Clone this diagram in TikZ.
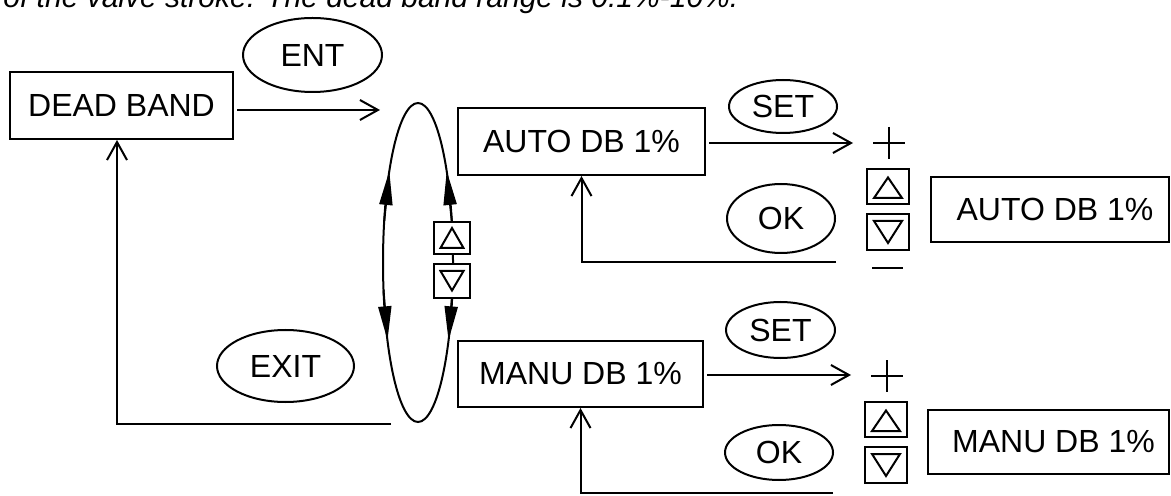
\documentclass[tikz,border=0pt]{standalone}
\usepackage{fontspec}
\setmainfont{Liberation Sans}
\usetikzlibrary{arrows.meta,shapes.geometric}
\begin{document}
\begin{tikzpicture}[x=0.5pt,y=-0.5pt,
  every node/.style={font=\fontsize{16}{19}\selectfont},
  box/.style={draw, line width=1pt, inner sep=0pt, rectangle},
  key/.style={draw, ellipse, line width=1pt, inner sep=0pt},
  btn/.style={draw, line width=1pt, inner sep=0pt, rectangle, fill=white},
  conn/.style={line width=1pt, -{Straight Barb[length=9pt,width=10pt,line width=1pt]}},
  plain/.style={line width=1pt},
  tri/.style={line width=1pt, line join=miter},
  loopar/.style={line width=1pt, -{Triangle[length=17pt,width=6.5pt]}},
]
\useasboundingbox (0,0) rectangle (1171,496);
\clip (0,0) rectangle (1171,496);

% top text line (cut by the picture edge, as in the reference)
\node[anchor=base west, inner sep=0pt, font=\itshape\fontsize{15}{18}\selectfont] (note) at (3,8)
  {of the valve stroke. The dead band range is 0.1\%-10\%.};

% boxes
\node[box, minimum width=111.5pt, minimum height=33.5pt] (dead) at (121.5,105.5) {DEAD BAND};
\node[box, minimum width=123.5pt, minimum height=33.5pt] (auto) at (581.5,141.5) {AUTO DB 1\%};
\node[box, minimum width=122.5pt, minimum height=33pt] (manu) at (580.5,374) {MANU DB 1\%};
\node[box, minimum width=119pt, minimum height=32.5pt] (autor) at (1050,209.5) {\hspace*{5pt}AUTO DB 1\%};
\node[box, minimum width=120.5pt, minimum height=32pt] (manur) at (1048.5,442) {\hspace*{5pt}MANU DB 1\%};

% key ellipses
\node[key, minimum width=69.5pt, minimum height=37pt] (ent) at (312.5,55) {ENT};
\node[key, minimum width=54pt, minimum height=26.5pt] (set1) at (783,106.5) {SET};
\node[key, minimum width=54pt, minimum height=34.5pt] (ok1) at (781,218.5) {OK};
\node[key, minimum width=54.5pt, minimum height=28pt] (set2) at (780.5,330) {SET};
\node[key, minimum width=54pt, minimum height=27.5pt] (ok2) at (779,452.5) {OK};
\node[key, minimum width=68.5pt, minimum height=36pt] (exit) at (285.5,366) {EXIT};

% selection loop
\node[draw, ellipse, line width=1pt, inner sep=0pt, minimum width=35pt, minimum height=159.5pt] (loop) at (418,262.5) {};
\draw[loopar] ([shift={(-33.8,-41.3)}]loop.center) -- ([shift={(-28.7,-91.5)}]loop.center);
\draw[loopar] ([shift={(33.8,-41.3)}]loop.center) -- ([shift={(28.7,-91.5)}]loop.center);
\draw[loopar] ([shift={(-34.5,27.7)}]loop.center) -- ([shift={(-30.5,77.8)}]loop.center);
\draw[loopar] ([shift={(34.5,27.7)}]loop.center) -- ([shift={(30.5,77.8)}]loop.center);

% buttons on the loop
\node[btn, minimum width=18pt, minimum height=16pt] (lup) at (452,238) {};
\node[btn, minimum width=18pt, minimum height=17pt] (ldn) at (452,281) {};
\draw[tri] ([shift={(-11.5,10)}]lup.center) -- ([shift={(11.5,10)}]lup.center) -- ([shift={(0,-10)}]lup.center) -- cycle;
\draw[tri] ([shift={(-11.5,-10)}]ldn.center) -- ([shift={(11.5,-10)}]ldn.center) -- ([shift={(0,9.5)}]ldn.center) -- cycle;

% upper right buttons
\node[btn, minimum width=21pt, minimum height=17.5pt] (aup) at (888,186.5) {};
\node[btn, minimum width=21pt, minimum height=18pt] (adn) at (888,232) {};
\draw[tri] ([shift={(-14,11.5)}]aup.center) -- ([shift={(14,11.5)}]aup.center) -- ([shift={(0,-9)}]aup.center) -- cycle;
\draw[tri] ([shift={(-14,-11)}]adn.center) -- ([shift={(14,-11)}]adn.center) -- ([shift={(0,11)}]adn.center) -- cycle;

% lower right buttons
\node[btn, minimum width=21pt, minimum height=17.5pt] (mup) at (886,419.5) {};
\node[btn, minimum width=21pt, minimum height=18pt] (mdn) at (886,465) {};
\draw[tri] ([shift={(-14,11.5)}]mup.center) -- ([shift={(14,11.5)}]mup.center) -- ([shift={(0,-9)}]mup.center) -- cycle;
\draw[tri] ([shift={(-14,-11)}]mdn.center) -- ([shift={(14,-11)}]mdn.center) -- ([shift={(0,11)}]mdn.center) -- cycle;

% plus / minus signs
\coordinate (plus1) at (889,143);
\coordinate (minus1) at (887.5,268);
\coordinate (plus2) at (887,376);
\draw[plain] ([shift={(-16,0)}]plus1) -- ([shift={(16,0)}]plus1);
\draw[plain] ([shift={(0,-16)}]plus1) -- ([shift={(0,16)}]plus1);
\draw[plain] ([shift={(-15.5,0)}]minus1) -- ([shift={(15.5,0)}]minus1);
\draw[plain] ([shift={(-16,0)}]plus2) -- ([shift={(16,0)}]plus2);
\draw[plain] ([shift={(0,-16)}]plus2) -- ([shift={(0,16)}]plus2);

% connectors
\coordinate (entend) at (380,110);
\draw[conn, shorten <=1.5pt] (dead.east |- entend) -- (entend);

\coordinate (exitend) at (391,424);
\coordinate (exitcorner) at (117,424);
\draw[conn] (exitend) -- (exitcorner) -- (exitcorner |- dead.south);

\coordinate (setend1) at (853,143);
\draw[conn, shorten <=1.5pt] (auto.east |- setend1) -- (setend1);
\coordinate (okstart1) at (836,262);
\draw[conn] (okstart1) -- (auto.south |- okstart1) -- (auto.south);

\coordinate (setend2) at (851,375);
\draw[conn, shorten <=1.5pt] (manu.east |- setend2) -- (setend2);
\coordinate (okstart2) at (833,493);
\draw[conn] (okstart2) -- (manu.south |- okstart2) -- (manu.south);
\end{tikzpicture}
\end{document}
